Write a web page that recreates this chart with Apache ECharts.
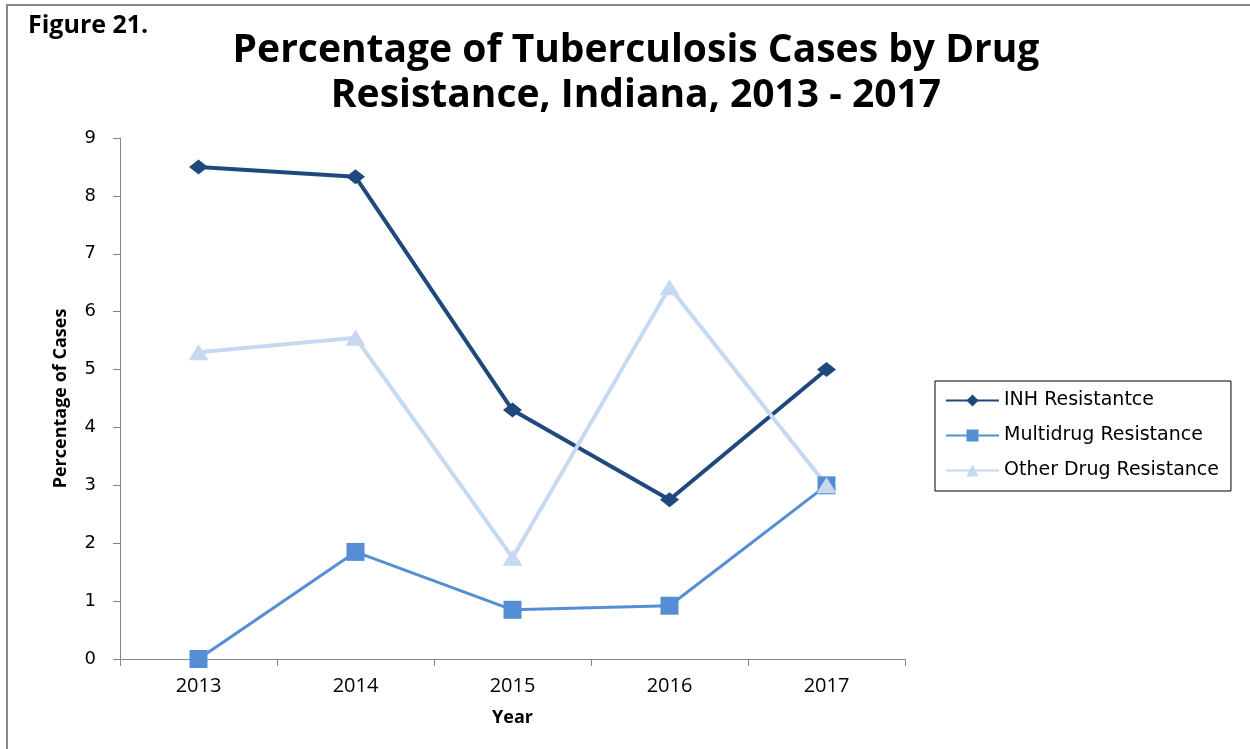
<!DOCTYPE html>
<html>
<head>
<meta charset="utf-8">
<script src="https://cdn.jsdelivr.net/npm/echarts@6/dist/echarts.min.js"></script>
<style>
  html, body { margin: 0; padding: 0; background: #fff; }
  #chartDiv { width: 1250px; height: 749px; }
</style>
</head>
<body>
<div id="chartDiv"></div>
<script>
// 数据
var years = ['2013', '2014', '2015', '2016', '2017'];
var inhValues = [8.5, 8.33, 4.3, 2.75, 5.0];
var multiValues = [0, 1.85, 0.85, 0.92, 3.0];
var otherValues = [5.3, 5.55, 1.75, 6.42, 3.0];

var fontName = '"Open Sans", "DejaVu Sans", sans-serif';
var wideFont = '"DejaVu Sans", Verdana, sans-serif';
var chart = echarts.init(document.getElementById('chartDiv'));

var option = {
    animation: false,
    graphic: [
        // 外框
        {
            type: 'rect',
            shape: {x: 7, y: 5, width: 1400, height: 900},
            style: {fill: 'none', stroke: '#8a8a8a', lineWidth: 2}
        },
        {
            type: 'text',
            left: 28,
            top: 13,
            style: {text: 'Figure 21.', font: 'bold 25px ' + fontName, fill: '#000'}
        }
    ],
    title: {
        text: 'Percentage of Tuberculosis Cases by Drug\nResistance, Indiana, 2013 - 2017',
        left: 631,
        top: 23,
        textAlign: 'center',
        textStyle: {
            fontFamily: fontName,
            fontWeight: 'bold',
            fontSize: 39,
            lineHeight: 45,
            color: '#000'
        }
    },
    legend: {
        orient: 'vertical',
        left: 935,
        top: 381,
        padding: [10, 12, 11, 10],
        itemGap: 16,
        itemWidth: 53,
        itemHeight: 15,
        borderColor: '#000',
        borderWidth: 1,
        textStyle: {fontFamily: wideFont, fontSize: 19, color: '#000'},
        data: ['INH Resistantce', 'Multidrug Resistance', 'Other Drug Resistance']
    },
    grid: {left: 120, right: 345, top: 138, bottom: 90},
    xAxis: {
        type: 'category',
        data: years,
        name: 'Year',
        nameLocation: 'middle',
        nameGap: 50,
        nameTextStyle: {fontFamily: fontName, fontWeight: 'bold', fontSize: 18, color: '#000'},
        axisLine: {lineStyle: {color: '#868686', width: 1}},
        axisTick: {show: true, length: 7, lineStyle: {color: '#868686'}},
        axisLabel: {fontFamily: fontName, fontSize: 20, color: '#000', margin: 17}
    },
    yAxis: {
        type: 'value',
        min: 0,
        max: 9,
        interval: 1,
        name: 'Percentage of Cases',
        nameLocation: 'middle',
        nameGap: 50,
        nameTextStyle: {fontFamily: '"Liberation Sans Narrow", ' + fontName, fontWeight: 'bold', fontSize: 18, color: '#000'},
        axisLine: {show: true, lineStyle: {color: '#868686', width: 1}},
        axisTick: {show: true, length: 7, lineStyle: {color: '#868686'}},
        axisLabel: {fontFamily: wideFont, fontSize: 18, color: '#000', margin: 24},
        splitLine: {show: false}
    },
    series: [
        {
            name: 'INH Resistantce',
            type: 'line',
            data: inhValues,
            symbol: 'diamond',
            symbolSize: [19, 15],
            lineStyle: {color: '#1f497d', width: 4},
            itemStyle: {color: '#1f497d'}
        },
        {
            name: 'Multidrug Resistance',
            type: 'line',
            data: multiValues,
            symbol: 'rect',
            symbolSize: 18,
            lineStyle: {color: '#558ed5', width: 3},
            itemStyle: {color: '#558ed5'}
        },
        {
            name: 'Other Drug Resistance',
            type: 'line',
            data: otherValues,
            symbol: 'triangle',
            symbolSize: [20, 16],
            lineStyle: {color: '#c6d9f1', width: 4},
            itemStyle: {color: '#c6d9f1'}
        }
    ]
};

chart.setOption(option);
</script>
</body>
</html>
